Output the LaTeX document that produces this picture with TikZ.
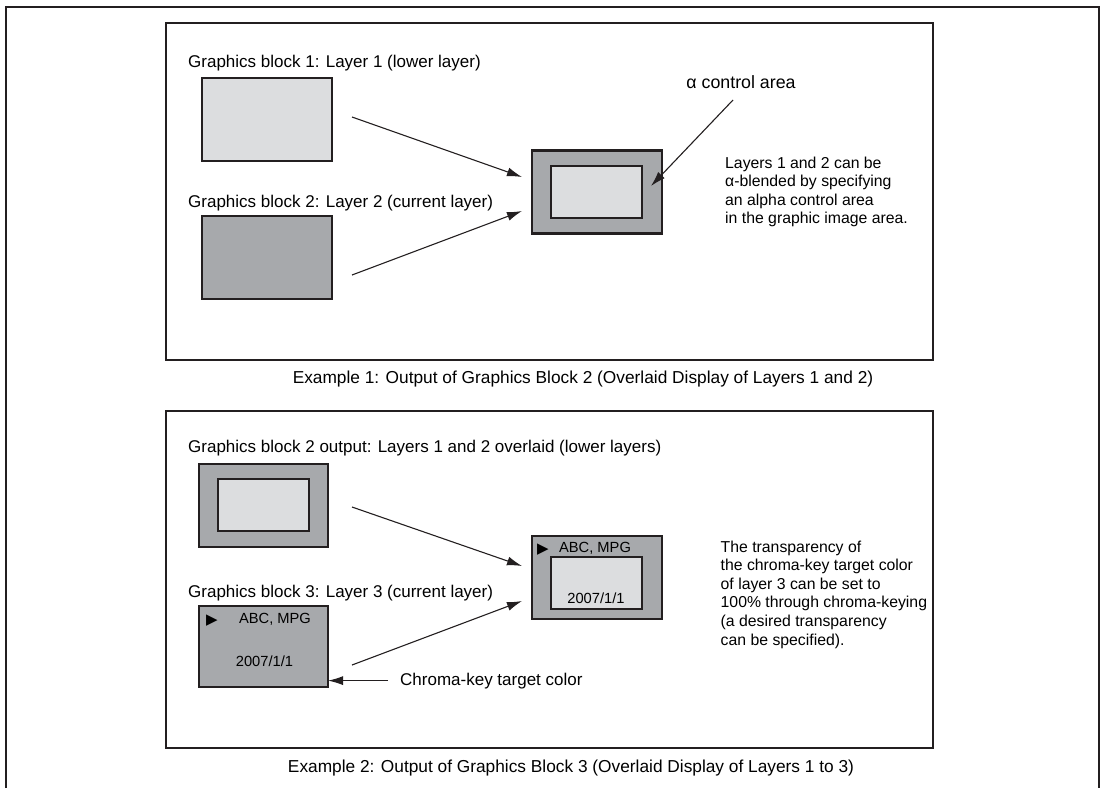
\documentclass[tikz,border=0pt]{standalone}
\usepackage{fontspec}
\setmainfont{Liberation Sans}
\newfontfamily\symfont{DejaVu Sans}
\usepackage{tikz}
\usetikzlibrary{arrows.meta,positioning}
\definecolor{ink}{HTML}{231F20}
\definecolor{pale}{HTML}{DCDDDF}
\definecolor{mid}{HTML}{A7A9AC}

\begin{document}
\begin{tikzpicture}[x=1pt,y=-1pt,
    frame/.style={draw=ink,line width=2pt,inner sep=0,outer sep=0,minimum width=767pt,minimum height=337pt},
    layer/.style={draw=ink,line width=2.8pt,inner sep=0,outer sep=0,minimum width=130pt,minimum height=83pt},
    area/.style={draw=ink,line width=2.8pt,fill=pale,inner sep=0,outer sep=0,minimum width=91pt,minimum height=52pt},
    title/.style={inner sep=0,anchor=base west,font=\fontsize{17}{20}\selectfont},
    caption/.style={inner sep=0,anchor=base,font=\fontsize{17.3}{20}\selectfont},
    note/.style={inner sep=0,anchor=north west,align=left,font=\fontsize{15.8}{18.6}\selectfont},
    small/.style={inner sep=0,anchor=base,font=\fontsize{14.7}{17}\selectfont},
    play/.style={inner sep=0,anchor=base west,font=\fontsize{15}{17}\symfont},
    arr/.style={-{Latex[length=15pt,width=9pt]},draw=ink,line width=1.1pt}]
\useasboundingbox (0,0) rectangle (1103,788);
\draw[ink,line width=2.5pt] (6,788) |- (1099,7) -- (1099,788);
\node[frame] (panel1) at (549.5,191.5) {};
\node[frame] (panel2) at (549.5,579.5) {};
\node[caption] (cap1) at (583,383) {Example 1: Output of Graphics Block 2 (Overlaid Display of Layers 1 and 2)};
\node[caption] (cap2) at (571,772) {Example 2: Output of Graphics Block 3 (Overlaid Display of Layers 1 to 3)};
\node[title] (t1) at (188,67) {Graphics block 1: Layer 1 (lower layer)};
\node[title] (t2) at (188,207) {Graphics block 2: Layer 2 (current layer)};
\node[layer,fill=pale] (lay1) at (267,119.5) {};
\node[layer,fill=mid] (lay2) at (267,257.5) {};
\node[layer,fill=mid] (mix1) at (597,192) {};
\node[area] (alpha) at (596.5,192) {};
\node[caption,font=\fontsize{17.8}{20}\selectfont] (alphatxt) at (741,88) {α control area};
\node[note] (note1) at (725,156.5) {Layers 1 and 2 can be\\α-blended by specifying\\an alpha control area\\in the graphic image area.};
\coordinate (s1) at (352,117); \coordinate (e1) at (522,177);
\coordinate (s2) at (352,275); \coordinate (e2) at (522,211);
\coordinate (a0) at (733,100); \coordinate (a1) at (651,186);
\draw[arr] (s1)--(e1); \draw[arr] (s2)--(e2); \draw[arr] (a0)--(a1);
\node[title] (t3) at (188,452) {Graphics block 2 output: Layers 1 and 2 overlaid (lower layers)};
\node[title] (t4) at (188,597) {Graphics block 3: Layer 3 (current layer)};
\node[layer,fill=mid,minimum width=129pt] (lay12) at (263.5,505.5) {};
\node[area] (lay12in) at (263.5,505) {};
\node[layer,fill=mid,minimum width=129pt,minimum height=81pt] (lay3) at (263.5,646.5) {};
\node[play] (play3) at (206,624) {▶};
\node[small] (abc3) at (275,623) {ABC, MPG};
\node[small] (date3) at (264.5,666) {2007/1/1};
\node[layer,fill=mid] (mix2) at (597,577.5) {};
\node[area] (mix2in) at (596.5,583) {};
\node[play] (play) at (537,553) {▶};
\node[small] (abc) at (595,552) {ABC, MPG};
\node[small] (date) at (596,603) {2007/1/1};
\node[title] (chroma) at (400,685) {Chroma-key target color};
\node[note] (note2) at (720.5,540.5) {The transparency of\\the chroma-key target color\\of layer 3 can be set to\\100\% through chroma-keying\\(a desired transparency\\can be specified).};
\coordinate (s3) at (352,507); \coordinate (e3) at (522,566);
\coordinate (s4) at (352,665); \coordinate (e4) at (522,601);
\draw[arr] (s3)--(e3); \draw[arr] (s4)--(e4);
\draw[arr] ([xshift=-12pt]chroma.west)--(chroma.west-|lay3.east);
\end{tikzpicture}
\end{document}
